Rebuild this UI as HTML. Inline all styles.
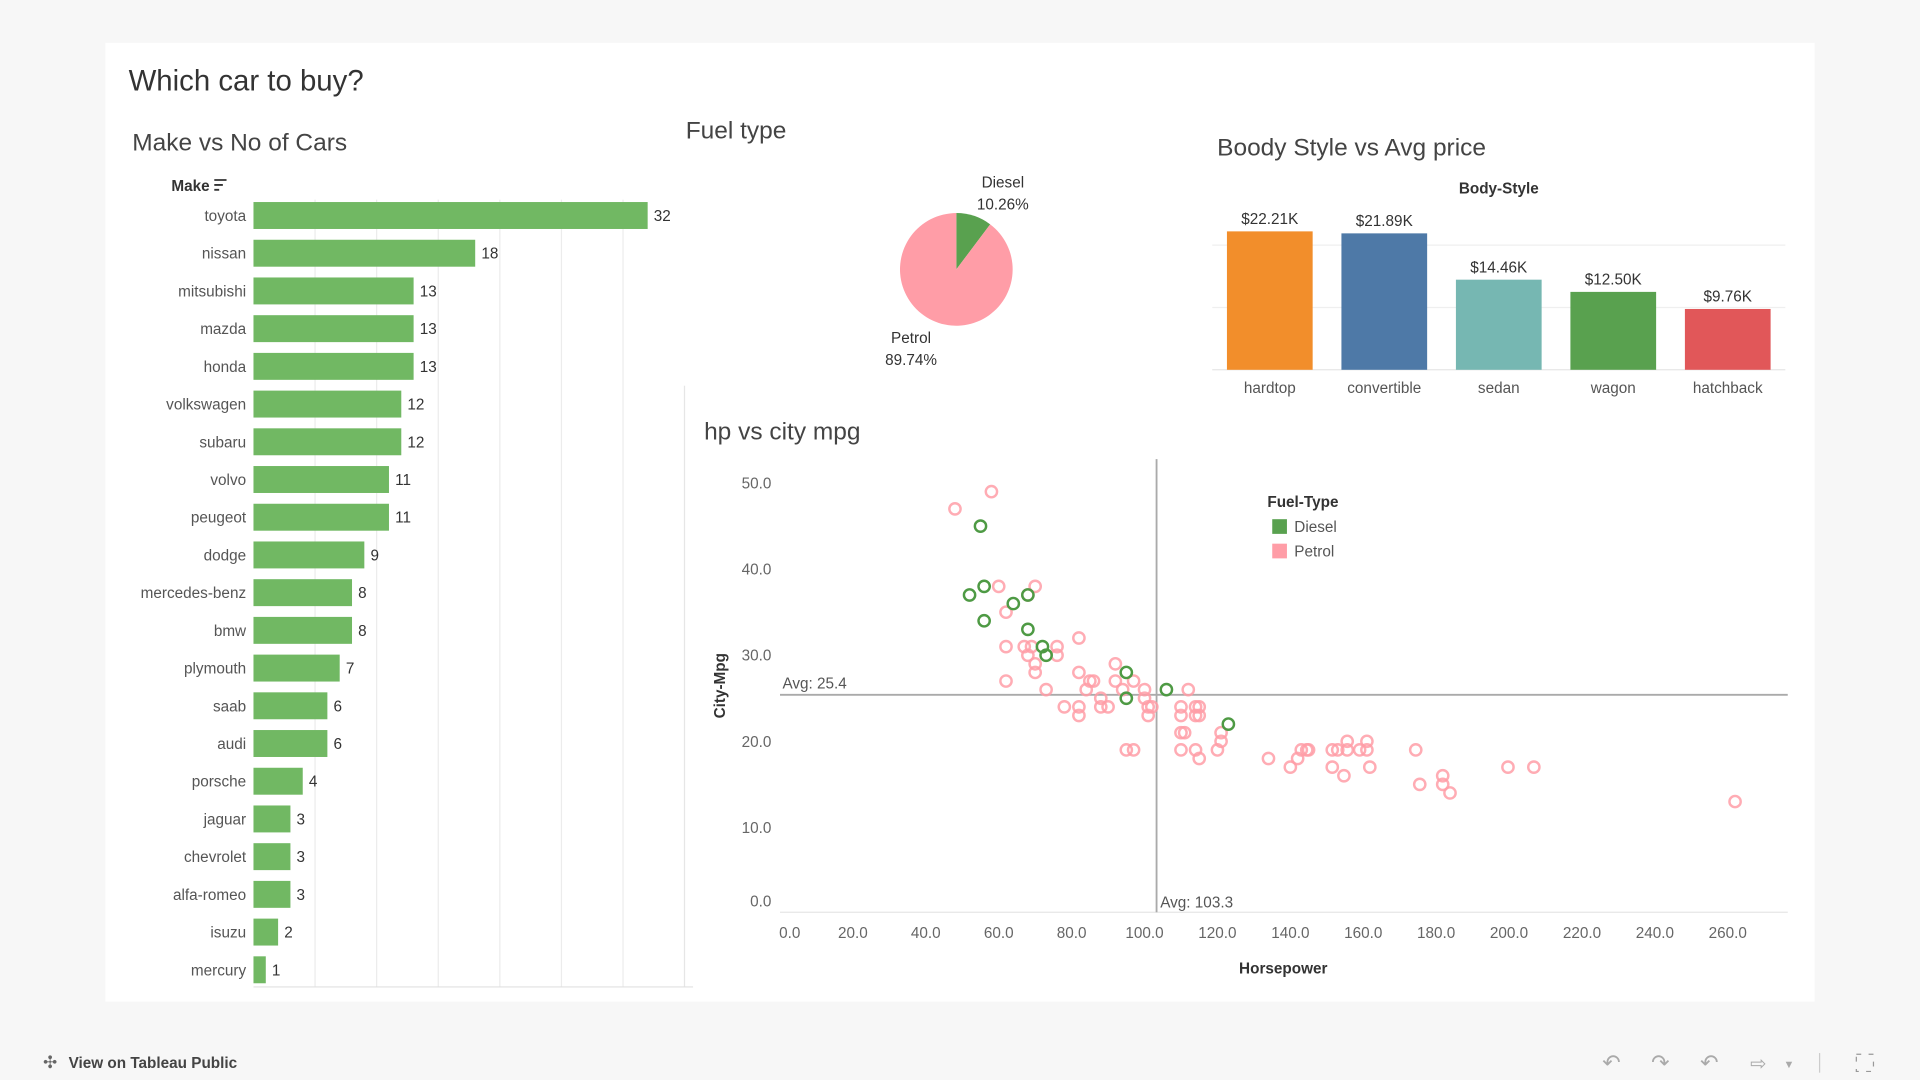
<!DOCTYPE html>
<html><head><meta charset="utf-8"><style>
html,body{margin:0;padding:0;background:#f7f7f7;}
svg{display:block;font-family:"Liberation Sans",sans-serif;}
</style></head><body>
<svg id="dash" width="1920" height="1080" viewBox="0 0 1568 882" preserveAspectRatio="none" xmlns="http://www.w3.org/2000/svg">
<rect x="0" y="0" width="1568" height="882" fill="#f7f7f7"/>
<rect x="86" y="35" width="1396" height="783" fill="#ffffff"/>
<text x="105" y="74" font-size="24" fill="#333">Which car to buy?</text>
<text x="108" y="123" font-size="20" fill="#444">Make vs No of Cars</text>
<text x="560" y="113" font-size="20" fill="#444">Fuel type</text>
<text x="994" y="127" font-size="20" fill="#444">Boody Style vs Avg price</text>
<text x="575" y="359" font-size="20" fill="#444">hp vs city mpg</text>
<line x1="559" y1="315" x2="559" y2="806" stroke="#e6e6e6"/>
<g id="make"></g><g id="pie"></g><g id="body"></g><g id="scatter"></g>
<g>
<g>
<text x="41" y="872" font-size="14" fill="#666" text-anchor="middle">✣</text>
<text x="56" y="872" font-size="12.5" font-weight="bold" fill="#444">View on Tableau Public</text></g>
<text x="1316" y="874" font-size="18" fill="#aaa" text-anchor="middle">↶</text>
<text x="1356" y="874" font-size="18" fill="#aaa" text-anchor="middle">↷</text>
<text x="1396" y="874" font-size="18" fill="#aaa" text-anchor="middle">↶</text>
<text x="1436" y="874" font-size="16" fill="#aaa" text-anchor="middle">⇨</text>
<text x="1461" y="872" font-size="9" fill="#aaa" text-anchor="middle">▼</text>
<line x1="1486" y1="860" x2="1486" y2="876" stroke="#ccc"/>
<rect x="1516" y="861" width="14" height="14" fill="none" stroke="#999" stroke-dasharray="4 6"/>
</g>
</svg>
<script>
const NS="http://www.w3.org/2000/svg";
function mk(parent,tag,attrs,txt){const e=document.createElementNS(NS,tag);for(const k in attrs)e.setAttribute(k,attrs[k]);if(txt!==undefined)e.textContent=txt;parent.appendChild(e);return e;}

// ---- Make chart data
const makes=["toyota","nissan","mitsubishi","mazda","honda","volkswagen","subaru","volvo","peugeot","dodge","mercedes-benz","bmw","plymouth","saab","audi","porsche","jaguar","chevrolet","alfa-romeo","isuzu","mercury"];
const makeCounts=[32,18,13,13,13,12,12,11,11,9,8,8,7,6,6,4,3,3,3,2,1];
const makeGrid=[5,10,15,20,25,30];

// ---- Pie data
const fuelTypes=["Diesel","Petrol"];
const fuelShares=[10.26,89.74];

// ---- Body style data
const bodyStyles=["hardtop","convertible","sedan","wagon","hatchback"];
const bodyPrices=[22.21,21.89,14.46,12.50,9.76];
const bodyPriceLabels=["$22.21K","$21.89K","$14.46K","$12.50K","$9.76K"];

// ---- Scatter data
const dieselHp=[55,52,56,68,64,56,68,72,73,95,95,106,123];
const dieselMpg=[45,37,38,37,36,34,33,31,30,28,25,26,22];
const petrolHp=[58,48,60,70,68,62,62,67,69,68,70,70,76,76,82,62,73,82,85,86,84,92,92,97,100,94,78,82,82,88,88,90,100,101,102,101,112,110,110,114,115,114,115,110,111,110,114,115,120,121,121,95,97,134,140,142,143,144.5,145,151.5,153,155.6,155.6,151.5,154.7,159,161,161,161.8,174.4,175.5,181.8,181.8,183.8,199.7,206.8,262];
const petrolMpg=[49,47,38,38,37,35,31,31,31,30,29,28,31,30,32,27,26,28,27,27,26,29,27,27,26,26,24,24,23,25,24,24,25,24,24,23,26,24,23,24,24,23,23,21,21,19,19,18,19,20,21,19,19,18,17,18,19,19,19,19,19,19,20,17,16,19,19,20,17,19,15,16,15,14,17,17,13];
const xTicks=[0,20,40,60,80,100,120,140,160,180,200,220,240,260];
const yTicks=[0,10,20,30,40,50];
const avgHp=103.3, avgMpg=25.4;

// ===== Make bar chart
(function(){
const g=document.getElementById("make");
const x0=207, sx=10.06, top=176, step=30.8;
const X=v=>x0+v*sx;
makeGrid.forEach(v=>{const l=mk(g,"line",{x1:X(v),y1:163,x2:X(v),y2:806,stroke:"#ececec"});

});
mk(g,"line",{x1:207,y1:806,x2:566,y2:806,stroke:"#e0e0e0"});
const hdr=mk(g,"text",{x:140,y:156,"font-size":12.5,"font-weight":"bold",fill:"#333"},"Make");


const so=mk(g,"path",{d:"M175 147h10M175 151h7M175 155h4",stroke:"#333","stroke-width":1.5});


makes.forEach((m,i)=>{const y=top+i*step;
const t=mk(g,"text",{x:201,y:y+4.5,"font-size":12.5,fill:"#555","text-anchor":"end"},m);


const r=mk(g,"rect",{x:x0,y:y-11,width:makeCounts[i]*sx,height:22,fill:"#71b863"});


const v=mk(g,"text",{x:X(makeCounts[i])+5,y:y+4.5,"font-size":12.5,fill:"#333"},makeCounts[i]);

});
})();

// ===== Pie
(function(){
const g=document.getElementById("pie");
const cx=781,cy=220,r=46;const colors=["#59a14f","#ff9da7"];
let a0=0;const tot=fuelShares.reduce((a,b)=>a+b,0);
fuelShares.forEach((s,i)=>{const a1=a0+s/tot*2*Math.PI;
const p=(a)=>[cx+r*Math.sin(a),cy-r*Math.cos(a)];
const [x1,y1]=p(a0),[x2,y2]=p(a1);const large=(a1-a0)>Math.PI?1:0;
const sl=mk(g,"path",{d:`M${cx} ${cy}L${x1} ${y1}A${r} ${r} 0 ${large} 1 ${x2} ${y2}Z`,fill:colors[i]});


a0=a1;});
const l1=mk(g,"text",{x:819,y:153,"font-size":12.5,fill:"#333","text-anchor":"middle"},fuelTypes[0]);


const l2=mk(g,"text",{x:819,y:171,"font-size":12.5,fill:"#333","text-anchor":"middle"},fuelShares[0].toFixed(2)+"%");


const l3=mk(g,"text",{x:744,y:280,"font-size":12.5,fill:"#333","text-anchor":"middle"},fuelTypes[1]);


const l4=mk(g,"text",{x:744,y:298,"font-size":12.5,fill:"#333","text-anchor":"middle"},fuelShares[1].toFixed(2)+"%");


})();

// ===== Body style bars
(function(){
const g=document.getElementById("body");
const base=302,sy=5.09,cx0=1037,step=93.5,w=70;
const colors=["#f28e2b","#4e79a7","#76b7b2","#59a14f","#e15759"];
[10,20].forEach(v=>{const l=mk(g,"line",{x1:990,y1:base-v*sy,x2:1458,y2:base-v*sy,stroke:"#efefef"});

});
mk(g,"line",{x1:990,y1:base,x2:1458,y2:base,stroke:"#e6e6e6"});
const h=mk(g,"text",{x:1224,y:158,"font-size":12.5,"font-weight":"bold",fill:"#333","text-anchor":"middle"},"Body-Style");


bodyStyles.forEach((b,i)=>{const cx=cx0+i*step;const hh=bodyPrices[i]*sy;
const r=mk(g,"rect",{x:cx-w/2,y:base-hh,width:w,height:hh,fill:colors[i]});


const v=mk(g,"text",{x:cx,y:base-hh-6,"font-size":12.5,fill:"#333","text-anchor":"middle"},bodyPriceLabels[i]);


const t=mk(g,"text",{x:cx,y:321,"font-size":12.5,fill:"#555","text-anchor":"middle"},b);

});
})();

// ===== Scatter
(function(){
const g=document.getElementById("scatter");
const x0=637,sx=2.977,y0=746,sy=7.03;
const X=v=>x0+v*sx,Y=v=>y0-v*sy;
mk(g,"line",{x1:637,y1:745,x2:1460,y2:745,stroke:"#e6e6e6"});
xTicks.forEach(v=>{const t=mk(g,"text",{x:Math.max(X(v),645),y:766,"font-size":12.5,fill:"#666","text-anchor":"middle"},v.toFixed(1));

});
yTicks.forEach(v=>{const t=mk(g,"text",{x:630,y:Math.min(Y(v)+4.5,740.5),"font-size":12.5,fill:"#666","text-anchor":"end"},v.toFixed(1));

});
const xt=mk(g,"text",{x:1048,y:795,"font-size":12.5,"font-weight":"bold",fill:"#333","text-anchor":"middle"},"Horsepower");


const yt=mk(g,"text",{x:0,y:0,"font-size":12.5,"font-weight":"bold",fill:"#333","text-anchor":"middle",transform:"translate(592,560) rotate(-90)"},"City-Mpg");


const rv=mk(g,"line",{x1:X(avgHp),y1:375,x2:X(avgHp),y2:745,stroke:"#aaa","stroke-width":1.5});


const rh=mk(g,"line",{x1:637,y1:Y(avgMpg),x2:1460,y2:Y(avgMpg),stroke:"#aaa","stroke-width":1.5});


const a1=mk(g,"text",{x:639,y:Y(avgMpg)-5,"font-size":12.5,fill:"#555"},"Avg: "+avgMpg);


const a2=mk(g,"text",{x:X(avgHp)+3,y:741,"font-size":12.5,fill:"#555"},"Avg: "+avgHp);


petrolHp.forEach((h,i)=>{const c=mk(g,"circle",{cx:X(h),cy:Y(petrolMpg[i]),r:4.6,fill:"none",stroke:"#ff9da7","stroke-width":2,"stroke-opacity":0.85});

});
dieselHp.forEach((h,i)=>{const c=mk(g,"circle",{cx:X(h),cy:Y(dieselMpg[i]),r:4.6,fill:"none",stroke:"#4e9a44","stroke-width":2});

});
const lt=mk(g,"text",{x:1035,y:414,"font-size":12.5,"font-weight":"bold",fill:"#333"},"Fuel-Type");


[["Diesel","#59a14f",430],["Petrol","#ff9da7",450]].forEach(([n,c,y])=>{
const s=mk(g,"rect",{x:1039,y:y-6,width:12,height:12,fill:c});


const t=mk(g,"text",{x:1057,y:y+4.5,"font-size":12.5,fill:"#555"},n);

});
})();
</script>
</body></html>
